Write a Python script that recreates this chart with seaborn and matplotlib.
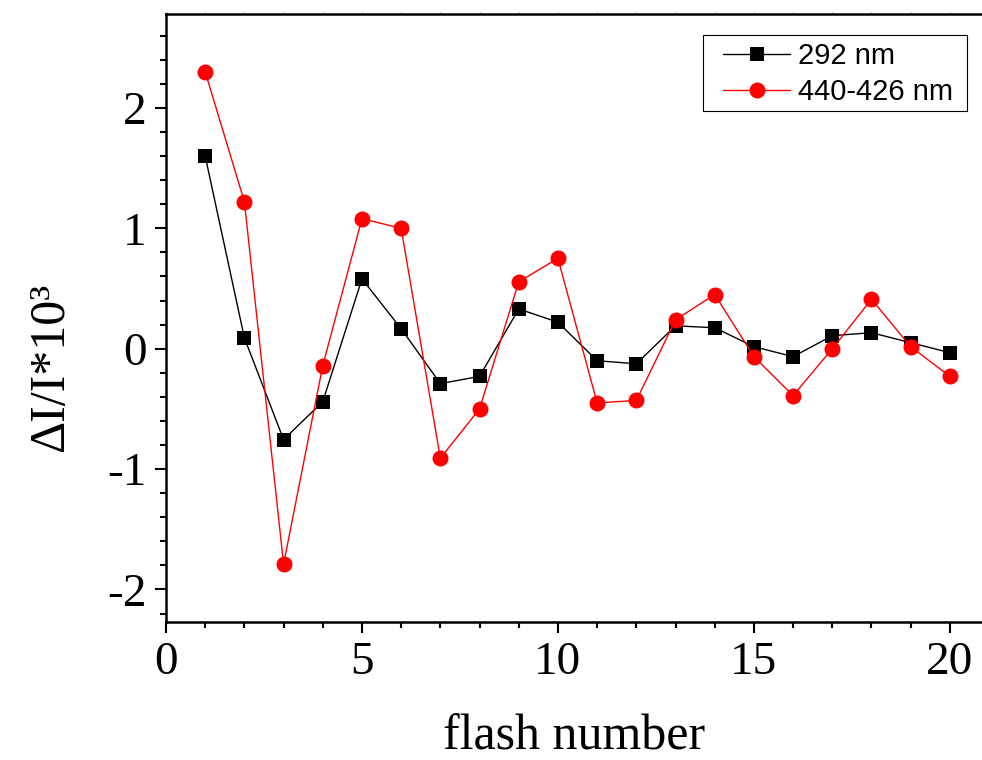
import numpy as np
import pandas as pd
import seaborn as sns
import matplotlib
matplotlib.use("Agg")
import matplotlib.pyplot as plt
from matplotlib.ticker import MultipleLocator
from matplotlib.patches import Rectangle

flash = list(range(1, 21))
s292 = [1.60, 0.09, -0.755, -0.44, 0.58, 0.166, -0.29, -0.23, 0.33, 0.22,
        -0.10, -0.125, 0.19, 0.174, 0.017, -0.066, 0.108, 0.133, 0.05, -0.033]
s440 = [2.30, 1.22, -1.79, -0.14, 1.08, 1.00, -0.91, -0.50, 0.556, 0.75,
        -0.45, -0.43, 0.24, 0.45, -0.066, -0.39, 0.0, 0.41, 0.017, -0.23]
labels = ["292 nm", "440-426 nm"]

sns.set_theme(style="white")
plt.rcParams['font.family'] = ['Liberation Serif', 'DejaVu Serif']
plt.rcParams['axes.unicode_minus'] = False
plt.rcParams['text.color'] = 'black'
plt.rcParams['axes.labelcolor'] = 'black'
plt.rcParams['xtick.color'] = 'black'
plt.rcParams['ytick.color'] = 'black'

fig = plt.figure(figsize=(9.82, 7.6), dpi=100)
ax = fig.add_axes([166/982, 1-622/760, (982-166)/982, (622-14)/760])

df1 = pd.DataFrame({"x": flash, "y": s292})
df2 = pd.DataFrame({"x": flash, "y": s440})
sns.lineplot(data=df1, x="x", y="y", ax=ax, color="black", marker="s",
             markersize=10, markeredgewidth=0, linewidth=1, label=labels[0])
sns.lineplot(data=df2, x="x", y="y", ax=ax, color="#ff0000", marker="o",
             markersize=11.5, markeredgewidth=0, linewidth=1, label=labels[1])

ax.set_xlim(0, 20.82)
ax.set_ylim(-2.27, 2.78)
ax.xaxis.set_major_locator(MultipleLocator(5))
ax.xaxis.set_minor_locator(MultipleLocator(1))
ax.yaxis.set_major_locator(MultipleLocator(1))
ax.yaxis.set_minor_locator(MultipleLocator(0.2))

for s in ["left", "bottom", "top"]:
    ax.spines[s].set_visible(True)
    ax.spines[s].set_color("black")
    ax.spines[s].set_linewidth(1.8)
ax.spines["right"].set_visible(False)

ax.tick_params(axis="both", which="major", direction="out", length=8, width=1.5,
               color="black", labelcolor="black", labelsize=34, pad=6,
               bottom=True, left=True, top=False, right=False)
ax.tick_params(axis="both", which="minor", direction="out", length=4.5, width=1.5,
               color="black", bottom=True, left=True, top=False, right=False)

sec = ax.secondary_xaxis("top")
sec.xaxis.set_major_locator(MultipleLocator(1))
sec.tick_params(direction="out", length=1.5, width=0.8, color="#999999", labeltop=False)
sec.spines["top"].set_visible(False)

ax.set_xlabel("flash number", fontsize=36, labelpad=22, color="black")
ax.set_ylabel("ΔI/I*10³", fontsize=36, color="black")
ax.yaxis.set_label_coords(-0.113, 0.418)

leg = ax.legend(loc="upper left", bbox_to_anchor=(723/982, 1-42/760),
                bbox_transform=fig.transFigure, borderaxespad=0,
                frameon=False, handlelength=2.3,
                prop={"family": "Liberation Sans", "size": 21},
                borderpad=0, labelspacing=0.27, handletextpad=0.27)
for t in leg.get_texts():
    t.set_color("black")
fig.patches.append(Rectangle((703/982, 1-111/760), (967-703)/982, (111-35)/760,
                             transform=fig.transFigure, fill=False,
                             edgecolor="black", linewidth=0.8, zorder=5))

fig.savefig("out.png", dpi=100)
